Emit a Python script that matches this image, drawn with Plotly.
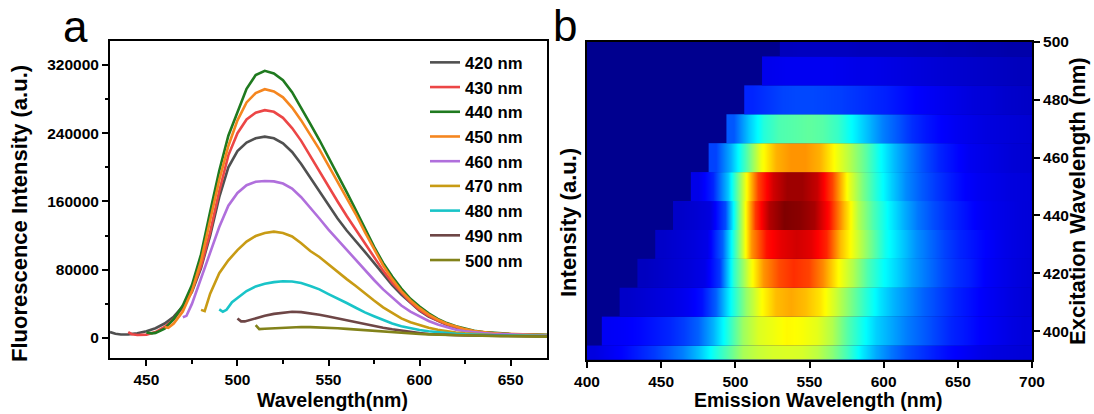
import plotly.graph_objects as go

# ---------------- Panel a : emission spectra ----------------
LEGEND_LABELS = ["420 nm", "430 nm", "440 nm", "450 nm", "460 nm",
                 "470 nm", "480 nm", "490 nm", "500 nm"]
LINE_COLORS = ["#505050", "#ec4646", "#1f7a1f", "#f5861f", "#b06fdc",
               "#c89b14", "#19c4c8", "#6e4646", "#82821a"]

WL_420 = [430, 433, 436] + list(range(440, 671, 5))
I_420 = [7000, 5000, 4200, 4300, 5500, 8000, 11500, 17000, 25000, 37000, 54000,
         82000, 120000, 165000, 200000, 219000, 229000, 234000, 236000, 234000,
         228000, 218000, 204000, 188000, 172000, 155000, 140000, 126000, 114000,
         101000, 88000, 75000, 62000, 51000, 41000, 32000, 25000, 20000, 15500,
         12000, 9500, 7500, 6200, 5300, 4700, 4200, 3800, 3500, 3300, 3100]

WL_430 = [440, 442] + list(range(445, 671, 5))
I_430 = [7000, 4500, 3500, 4000, 7000, 13000, 22000, 36000, 56000, 84000, 124000,
         172000, 214000, 240000, 256000, 264000, 267000, 265000, 258000, 246000,
         231000, 213000, 195000, 177000, 160000, 143000, 127000, 111000, 95000,
         79000, 65000, 53000, 42000, 33000, 26000, 20500, 16000, 12500, 9800, 7800,
         6400, 5500, 4800, 4300, 3900, 3600, 3400, 3200]

WL_440 = [450, 453] + list(range(455, 671, 5))
I_440 = [6500, 5500, 6000, 11000, 22000, 38000, 62000, 98000, 148000, 196000,
         237000, 265000, 292000, 308000, 313000, 310000, 302000, 288000, 270000,
         251000, 232000, 212000, 191000, 171000, 150000, 128000, 107000, 88000,
         72000, 58000, 46000, 37000, 29000, 22500, 17500, 13800, 10800, 8500, 7000,
         6000, 5300, 4800, 4400, 4100, 3900, 3700]

WL_450 = [460, 462] + list(range(465, 671, 5))
I_450 = [13000, 12000, 17000, 31000, 55000, 90000, 138000, 185000, 225000, 255000,
         276000, 287000, 291500, 289000, 282000, 270000, 255000, 238000, 221000,
         202000, 183000, 164000, 145000, 124000, 104000, 85000, 69000, 55000, 44000,
         35000, 27500, 21500, 16800, 13200, 10400, 8300, 6900, 5900, 5200, 4700,
         4300, 4000, 3800, 3600]

WL_460 = [470, 472] + list(range(475, 671, 5))
I_460 = [24300, 26000, 40000, 70000, 100000, 130000, 155000, 170000, 179000, 183000,
         184000, 183500, 181000, 175000, 165000, 153000, 140000, 127000, 115000,
         104000, 92000, 80000, 68000, 57000, 47000, 38000, 31000, 25000, 20000,
         15800, 12500, 9800, 7900, 6600, 5700, 5000, 4500, 4100, 3700, 3400, 3200,
         3000]

WL_470 = [480, 482] + list(range(485, 671, 5))
I_470 = [33000, 31500, 52000, 76000, 91000, 103000, 113000, 119500, 123000, 124600,
         123000, 119000, 111000, 102000, 95000, 86000, 77000, 69000, 61000, 52000,
         44000, 36000, 29000, 23000, 18500, 15000, 12000, 9600, 7800, 6500, 5500,
         4700, 4100, 3600, 3200, 2900, 2700, 2500, 2300, 2200]

WL_480 = [490, 492, 494, 497] + list(range(500, 671, 5))
I_480 = [33600, 30800, 33000, 42000, 47000, 55000, 60500, 63500, 65500, 66600,
         66300, 64500, 61000, 57000, 51500, 46500, 41000, 35500, 30000, 25500,
         21000, 17000, 13800, 11300, 9400, 7900, 6700, 5700, 5000, 4400, 3900,
         3500, 3200, 3000, 2800, 2600, 2500, 2400, 2300]

WL_490 = [500, 502, 504, 507] + list(range(510, 671, 5))
I_490 = [23000, 19500, 19500, 21500, 23500, 26000, 28300, 29800, 30800, 30300,
         29000, 27300, 25300, 23000, 20800, 18300, 16000, 14000, 12100, 10300,
         8600, 7000, 5700, 4800, 4100, 3600, 3200, 2900, 2700, 2500, 2400, 2300,
         2200, 2100, 2000, 1900, 1800]

WL_500 = [510, 512] + list(range(515, 671, 5))
I_500 = [15200, 10500, 10800, 11500, 12200, 12700, 12900, 12800, 12500, 12000,
         11400, 10700, 9900, 9100, 8300, 7400, 6600, 5900, 5300, 4800, 4300, 3900,
         3500, 3200, 2900, 2700, 2500, 2300, 2100, 2000, 1900, 1800, 1700, 1600]

CURVES = [(WL_420, I_420), (WL_430, I_430), (WL_440, I_440), (WL_450, I_450),
          (WL_460, I_460), (WL_470, I_470), (WL_480, I_480), (WL_490, I_490),
          (WL_500, I_500)]

A_XTICKS = [450, 500, 550, 600, 650]
A_YTICKS = [0, 80000, 160000, 240000, 320000]

# ---------------- Panel b : excitation-emission map ----------------
EXC_ROWS = [390, 400, 410, 420, 430, 440, 450, 460, 470, 480, 490, 500]
ROW_START = [400, 410, 422, 434, 446, 458, 470, 482, 494, 506, 518, 530]
ROW_390 = [0.09, 0.11, 0.13, 0.155, 0.18, 0.215, 0.25, 0.31, 0.39, 0.46, 0.54, 0.57,
           0.585, 0.59, 0.585, 0.56, 0.51, 0.44, 0.36, 0.29, 0.24, 0.20, 0.175,
           0.15, 0.13, 0.115, 0.10, 0.09, 0.085, 0.08]
ROW_400 = [0.115, 0.12, 0.13, 0.145, 0.16, 0.185, 0.22, 0.30, 0.41, 0.53, 0.59, 0.61,
           0.63, 0.62, 0.60, 0.55, 0.46, 0.39, 0.33, 0.29, 0.25, 0.22, 0.19, 0.16,
           0.145, 0.125, 0.11, 0.095, 0.085]
ROW_410 = [0.065, 0.075, 0.085, 0.095, 0.11, 0.14, 0.22, 0.38, 0.52, 0.62, 0.69,
           0.71, 0.69, 0.65, 0.58, 0.50, 0.42, 0.35, 0.30, 0.26, 0.22, 0.19, 0.16,
           0.14, 0.12, 0.105, 0.09, 0.08]
ROW_420 = [0.055, 0.065, 0.075, 0.085, 0.10, 0.18, 0.42, 0.59, 0.73, 0.80, 0.83,
           0.81, 0.74, 0.63, 0.55, 0.45, 0.38, 0.33, 0.28, 0.24, 0.20, 0.17, 0.15,
           0.12, 0.105, 0.09, 0.08]
ROW_430 = [0.065, 0.075, 0.085, 0.10, 0.22, 0.48, 0.73, 0.86, 0.90, 0.92, 0.90,
           0.84, 0.69, 0.59, 0.49, 0.39, 0.33, 0.27, 0.23, 0.19, 0.16, 0.14, 0.12,
           0.10, 0.09, 0.08]
ROW_440 = [0.065, 0.075, 0.09, 0.20, 0.52, 0.82, 0.95, 1.0, 0.99, 0.96, 0.86, 0.69,
           0.55, 0.45, 0.37, 0.30, 0.24, 0.20, 0.17, 0.145, 0.12, 0.105, 0.095,
           0.085, 0.08]
ROW_450 = [0.10, 0.16, 0.32, 0.57, 0.81, 0.92, 0.97, 0.97, 0.93, 0.81, 0.62, 0.50,
           0.41, 0.33, 0.26, 0.215, 0.18, 0.15, 0.125, 0.11, 0.10, 0.09, 0.085, 0.08]
ROW_460 = [0.19, 0.30, 0.45, 0.61, 0.70, 0.73, 0.73, 0.70, 0.62, 0.55, 0.47, 0.38,
           0.31, 0.25, 0.20, 0.16, 0.135, 0.11, 0.10, 0.09, 0.08, 0.075, 0.07]
ROW_470 = [0.21, 0.32, 0.41, 0.45, 0.46, 0.47, 0.46, 0.43, 0.37, 0.31, 0.25, 0.21,
           0.17, 0.145, 0.125, 0.11, 0.10, 0.09, 0.085, 0.08, 0.075, 0.07]
ROW_480 = [0.16, 0.175, 0.19, 0.195, 0.195, 0.19, 0.185, 0.175, 0.165, 0.155, 0.14,
           0.125, 0.115, 0.105, 0.095, 0.085, 0.08, 0.07, 0.065, 0.06, 0.06]
ROW_490 = [0.105, 0.11, 0.11, 0.11, 0.11, 0.105, 0.10, 0.10, 0.095, 0.09, 0.085,
           0.08, 0.075, 0.07, 0.065, 0.06, 0.055, 0.05, 0.05]
ROW_500 = [0.05, 0.055, 0.055, 0.055, 0.055, 0.05, 0.05, 0.05, 0.05, 0.045, 0.045,
           0.04, 0.04, 0.035, 0.035, 0.03, 0.03, 0.03]
ROW_VALUES = [ROW_390, ROW_400, ROW_410, ROW_420, ROW_430, ROW_440, ROW_450,
              ROW_460, ROW_470, ROW_480, ROW_490, ROW_500]
EMISSION_STEP = 10
ROW_HALF = 5

B_XTICKS = [400, 450, 500, 550, 600, 650, 700]
B_YTICKS = [400, 420, 440, 460, 480, 500]

JET = [[0.0, "rgb(0,0,143)"], [0.125, "rgb(0,0,255)"], [0.375, "rgb(0,255,255)"],
       [0.625, "rgb(255,255,0)"], [0.875, "rgb(255,0,0)"], [1.0, "rgb(128,0,0)"]]

# ---------------- figure ----------------
W, H = 1094, 414
PAGE_OFFSET = 0   # page margin removed by the post script below
FONT = "Liberation Sans, Arial, sans-serif"
TICKFONT = dict(family=FONT, size=15.5, color="black", weight="bold")


def px_x(p):
    return (p - PAGE_OFFSET) / W


def px_y(p):
    return 1 - (p - PAGE_OFFSET) / H


fig = go.Figure()

for (wl, inten), name, col in zip(CURVES, LEGEND_LABELS, LINE_COLORS):
    fig.add_trace(go.Scatter(x=wl, y=inten, mode="lines", name=name,
                             line=dict(color=col, width=2.6),
                             xaxis="x", yaxis="y"))

for exc, start, vals in zip(EXC_ROWS, ROW_START, ROW_VALUES):
    xs = [start + EMISSION_STEP / 2 + EMISSION_STEP * k for k in range(len(vals))]
    fig.add_trace(go.Heatmap(x=xs, y=[exc - ROW_HALF / 2, exc + ROW_HALF / 2],
                             z=[vals, vals], zsmooth="best", colorscale=JET,
                             zmin=0, zmax=1, showscale=False, showlegend=False,
                             hoverinfo="skip", xaxis="x2", yaxis="y2"))

axis_common = dict(showline=True, linecolor="black", linewidth=2, mirror=True,
                   showgrid=False, zeroline=False, ticks="outside",
                   tickcolor="black", tickwidth=1.5, tickfont=TICKFONT,
                   automargin=False)

fig.update_layout(
    width=W, height=H,
    margin=dict(l=0, r=0, t=0, b=0, pad=0, autoexpand=False),
    paper_bgcolor="white", plot_bgcolor="white",
    font=dict(family=FONT, color="black"),
    xaxis=dict(domain=[px_x(110), px_x(547)], range=[430, 670],
               tickvals=A_XTICKS, ticklen=6, anchor="y",
               minor=dict(dtick=25, tick0=425, ticklen=3.5, ticks="outside",
                          tickcolor="black", tickwidth=1.5),
               **axis_common),
    yaxis=dict(domain=[px_y(358), px_y(41)], range=[-23400, 348000],
               tickvals=A_YTICKS, tickformat="d", ticklen=6, anchor="x",
               minor=dict(dtick=40000, tick0=0, ticklen=3.5, ticks="outside",
                          tickcolor="black", tickwidth=1.5),
               **axis_common),
    xaxis2=dict(domain=[px_x(587), px_x(1032)], range=[400, 700],
                tickvals=B_XTICKS, ticklen=6, anchor="y2", **axis_common),
    yaxis2=dict(domain=[px_y(360), px_y(42)], range=[390, 500],
                tickvals=B_YTICKS, ticklen=6, anchor="x2", side="right",
                **axis_common),
    legend=dict(x=px_x(425), y=px_y(45), xanchor="left", yanchor="top",
                bgcolor="rgba(0,0,0,0)", borderwidth=0, tracegroupgap=0,
                font=dict(family=FONT, size=16.7, color="black", weight="bold")),
    shapes=[dict(type="rect", xref="x2 domain", yref="y2 domain",
                 x0=0, x1=1, y0=0, y1=1, fillcolor="rgb(0,0,143)",
                 line=dict(width=0), layer="below")],
)


def title(text, x, y, size, angle=0, bold=True):
    return dict(text=text, x=px_x(x), y=px_y(y), xref="paper", yref="paper",
                xanchor="center", yanchor="middle", showarrow=False,
                textangle=angle,
                font=dict(family=FONT, size=size, color="black",
                          weight="bold" if bold else "normal"))


fig.update_layout(annotations=[
    title("a", 75, 27, 44, bold=False),
    title("b", 565, 25, 44, bold=False),
    title("Fluorescence Intensity (a.u.)", 20, 214, 22, angle=-90),
    title("Wavelength(nm)", 332, 400, 19.5),
    title("Emission Wavelength (nm)", 818, 400, 19.5),
    title("Intensity (a.u.)", 568, 222, 22, angle=-90),
    title("Excitation Wavelength (nm)", 1078, 201, 22, angle=-90),
])

fig.write_html(
    "out.html",
    config={"displayModeBar": False},
    post_script="document.body.style.margin='0';document.body.style.overflow='hidden';",
)
